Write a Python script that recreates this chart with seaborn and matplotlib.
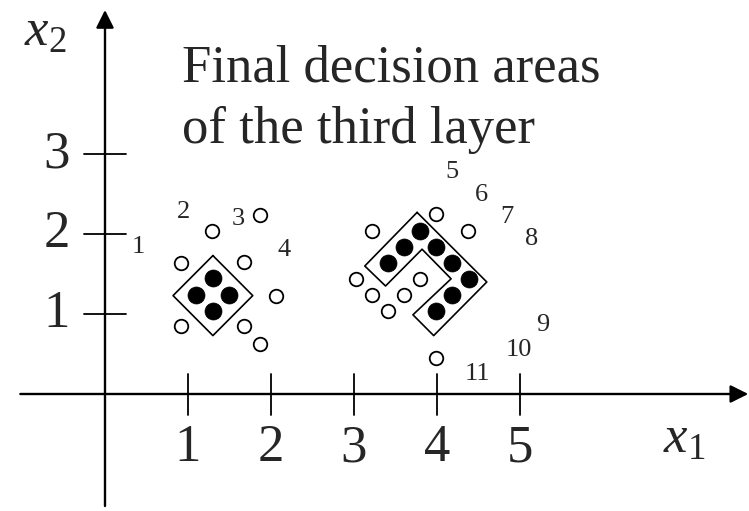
import numpy as np
import pandas as pd
import seaborn as sns
import matplotlib.pyplot as plt

# dữ liệu
open_x = [0.92, 1.29, 1.87, 1.68, 2.06, 0.92, 1.68, 1.87,
          3.22, 3.99, 4.37, 3.02, 3.22, 3.41, 3.60, 3.80, 3.99]
open_y = [1.64, 2.04, 2.24, 1.65, 1.23, 0.85, 0.85, 0.63,
          2.04, 2.25, 2.04, 1.44, 1.24, 1.04, 1.24, 1.44, 0.45]
filled_x = [1.30, 1.10, 1.49, 1.30,
            3.80, 3.60, 3.41, 3.99, 4.18, 4.38, 4.18, 3.99]
filled_y = [1.45, 1.24, 1.24, 1.04,
            2.04, 1.84, 1.64, 1.84, 1.64, 1.44, 1.24, 1.04]

# vùng quyết định (đa giác)
left_area_x = [1.30, 1.78, 1.30, 0.82]
left_area_y = [1.73, 1.23, 0.73, 1.23]
right_area_x = [3.76, 4.60, 3.96, 3.71, 4.17, 3.82, 3.38, 3.13]
right_area_y = [2.27, 1.40, 0.73, 0.99, 1.44, 1.81, 1.35, 1.60]

# nhãn số các đường
line_labels = ["1", "2", "3", "4", "5", "6", "7", "8", "9", "10", "11"]
line_label_x = [0.40, 0.95, 1.60, 2.16, 4.18, 4.54, 4.84, 5.14, 5.27, 4.99, 4.49]
line_label_y = [1.84, 2.28, 2.19, 1.80, 2.78, 2.49, 2.21, 1.94, 0.86, 0.55, 0.25]

x_ticks = [1, 2, 3, 4, 5]
y_ticks = [1, 2, 3]
title_lines = ["Final decision areas", "of the third layer"]

sns.set_style("white")
plt.rcParams['font.family'] = ['Liberation Serif', 'DejaVu Serif']
plt.rcParams['mathtext.fontset'] = 'custom'
plt.rcParams['mathtext.rm'] = 'Liberation Serif'
plt.rcParams['mathtext.it'] = 'Liberation Serif:italic'

fig = plt.figure(figsize=(7.49, 5.11), dpi=100)
ax = fig.add_axes([0, 0, 1, 1])

# trục có mũi tên
arrow = dict(arrowstyle='-|>,head_length=0.9,head_width=0.45', mutation_scale=12,
             lw=1.7, color='black', shrinkA=0, shrinkB=0)
ax.annotate('', xy=(7.75, 0), xytext=(-1.02, 0), arrowprops=arrow)
ax.annotate('', xy=(0, 4.80), xytext=(0, -1.40), arrowprops=arrow)

for t in x_ticks:
    ax.plot([t, t], [-0.26, 0.25], color='black', lw=1.3)
    ax.text(t, -0.68, str(t), fontsize=38, ha='center', va='center')
for t in y_ticks:
    ax.plot([-0.25, 0.25], [t, t], color='black', lw=1.3)
    ax.text(-0.58, t, str(t), fontsize=38, ha='center', va='center')

ax.text(6.98, -0.575, r'$x_1$', fontsize=38, ha='center', va='center')
ax.text(-0.72, 4.51, r'$x_2$', fontsize=38, ha='center', va='center')

ax.text(0.93, 3.90, title_lines[0], fontsize=38, ha='left', va='baseline')
ax.text(0.93, 3.14, title_lines[1], fontsize=38, ha='left', va='baseline')

# đa giác
ax.plot(left_area_x + left_area_x[:1], left_area_y + left_area_y[:1], color='black', lw=1.2)
ax.plot(right_area_x + right_area_x[:1], right_area_y + right_area_y[:1], color='black', lw=1.2)

# điểm
df_open = pd.DataFrame({'x': open_x, 'y': open_y})
df_filled = pd.DataFrame({'x': filled_x, 'y': filled_y})
sns.scatterplot(data=df_open, x='x', y='y', ax=ax, s=95, facecolor='white',
                edgecolor='black', linewidth=1.3, zorder=3)
sns.scatterplot(data=df_filled, x='x', y='y', ax=ax, s=150, color='black',
                edgecolor='black', linewidth=0.5, zorder=3)

for lab, lx, ly in zip(line_labels, line_label_x, line_label_y):
    ax.text(lx, ly, lab, fontsize=19, ha='center', va='center')

ax.set_xlim(-1.265, 7.759)
ax.set_ylim(-1.4625, 4.925)
ax.axis('off')
fig.savefig('out.png', dpi=100)
